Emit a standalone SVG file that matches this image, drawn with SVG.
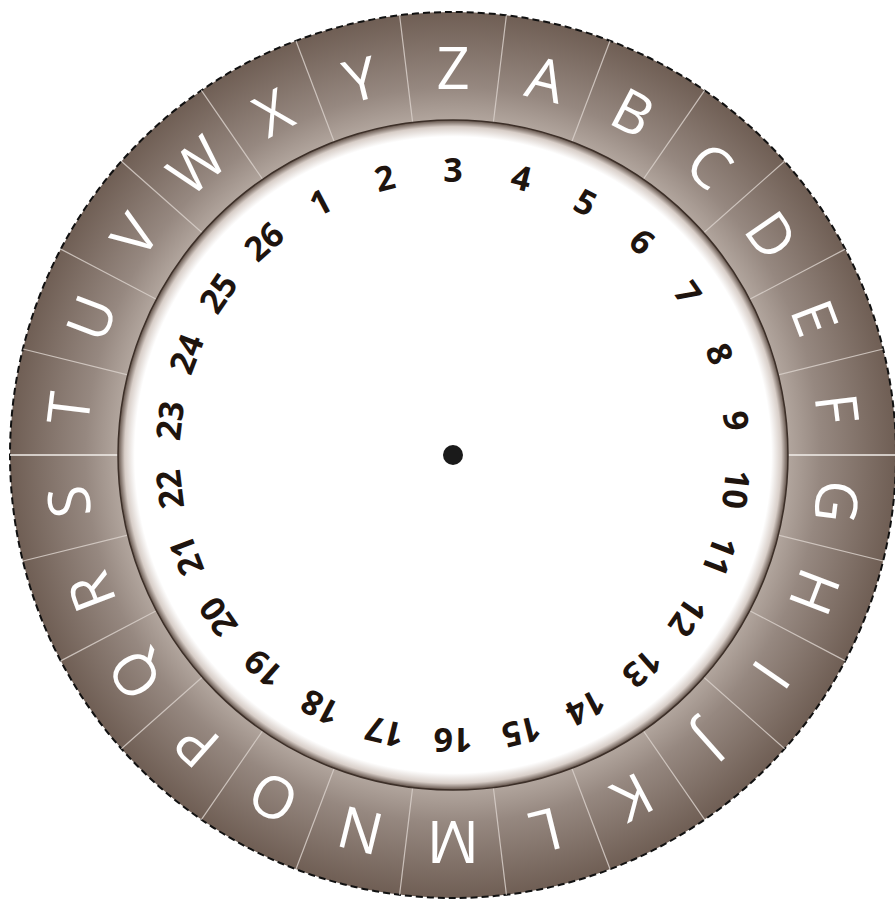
<svg xmlns="http://www.w3.org/2000/svg" xmlns:xlink="http://www.w3.org/1999/xlink" width="895" height="902" viewBox="0 0 895 902">
<defs>
<radialGradient id="ringG" cx="453" cy="455" r="443" gradientUnits="userSpaceOnUse">
<stop offset="0.75" stop-color="#b4a8a0"/>
<stop offset="0.83" stop-color="#968880"/>
<stop offset="1" stop-color="#6f5e54"/>
</radialGradient>
<radialGradient id="innerG" cx="453" cy="455" r="335" gradientUnits="userSpaceOnUse">
<stop offset="0.95" stop-color="#ffffff"/>
<stop offset="0.98" stop-color="#d8cec8"/>
<stop offset="1" stop-color="#5e4e45"/>
</radialGradient>
<line id="div" x1="453" y1="12" x2="453" y2="121"/>
<style>
.dv{stroke:#d9d0ca;stroke-width:1.2;opacity:0.85}
.dh{stroke:#f2eeea;stroke-width:1.6}
.lt{font-family:"Open Sans","DejaVu Sans",sans-serif;font-size:58px;fill:#ffffff;text-anchor:middle}
.nm{font-family:"Open Sans","DejaVu Sans",sans-serif;font-size:34px;font-weight:700;fill:#1e140e;text-anchor:middle}
</style>
</defs>
<g id="wheel">
<circle cx="453" cy="455" r="443" fill="url(#ringG)"/>
<circle cx="453" cy="455" r="443" fill="none" stroke="#111" stroke-width="2" stroke-dasharray="7 4"/>
</g>
<g id="dividers">
<use href="#div" class="dv" transform="rotate(6.923 453 455)"/>
<use href="#div" class="dv" transform="rotate(20.769 453 455)"/>
<use href="#div" class="dv" transform="rotate(34.615 453 455)"/>
<use href="#div" class="dv" transform="rotate(48.462 453 455)"/>
<use href="#div" class="dv" transform="rotate(62.308 453 455)"/>
<use href="#div" class="dv" transform="rotate(76.154 453 455)"/>
<use href="#div" class="dh" transform="rotate(90 453 455)"/>
<use href="#div" class="dv" transform="rotate(103.846 453 455)"/>
<use href="#div" class="dv" transform="rotate(117.692 453 455)"/>
<use href="#div" class="dv" transform="rotate(131.538 453 455)"/>
<use href="#div" class="dv" transform="rotate(145.385 453 455)"/>
<use href="#div" class="dv" transform="rotate(159.231 453 455)"/>
<use href="#div" class="dv" transform="rotate(173.077 453 455)"/>
<use href="#div" class="dv" transform="rotate(186.923 453 455)"/>
<use href="#div" class="dv" transform="rotate(200.769 453 455)"/>
<use href="#div" class="dv" transform="rotate(214.615 453 455)"/>
<use href="#div" class="dv" transform="rotate(228.462 453 455)"/>
<use href="#div" class="dv" transform="rotate(242.308 453 455)"/>
<use href="#div" class="dv" transform="rotate(256.154 453 455)"/>
<use href="#div" class="dh" transform="rotate(270 453 455)"/>
<use href="#div" class="dv" transform="rotate(283.846 453 455)"/>
<use href="#div" class="dv" transform="rotate(297.692 453 455)"/>
<use href="#div" class="dv" transform="rotate(311.538 453 455)"/>
<use href="#div" class="dv" transform="rotate(325.385 453 455)"/>
<use href="#div" class="dv" transform="rotate(339.231 453 455)"/>
<use href="#div" class="dv" transform="rotate(353.077 453 455)"/>
</g>
<g id="inner-disk">
<circle cx="453" cy="455" r="335" fill="url(#innerG)" stroke="#3c2f28" stroke-width="1.5"/>
</g>
<g id="letters">
<text class="lt" x="453" y="89" transform="rotate(0 453 455)">Z</text>
<text class="lt" x="453" y="89" transform="rotate(13.846 453 455)">A</text>
<text class="lt" x="453" y="89" transform="rotate(27.692 453 455)">B</text>
<text class="lt" x="453" y="89" transform="rotate(41.538 453 455)">C</text>
<text class="lt" x="453" y="89" transform="rotate(55.385 453 455)">D</text>
<text class="lt" x="453" y="89" transform="rotate(69.231 453 455)">E</text>
<text class="lt" x="453" y="89" transform="rotate(83.077 453 455)">F</text>
<text class="lt" x="453" y="89" transform="rotate(96.923 453 455)">G</text>
<text class="lt" x="453" y="89" transform="rotate(110.769 453 455)">H</text>
<text class="lt" x="453" y="89" transform="rotate(124.615 453 455)">I</text>
<text class="lt" x="453" y="89" transform="rotate(138.462 453 455)">J</text>
<text class="lt" x="453" y="89" transform="rotate(152.308 453 455)">K</text>
<text class="lt" x="453" y="89" transform="rotate(166.154 453 455)">L</text>
<text class="lt" x="453" y="89" transform="rotate(180 453 455)">M</text>
<text class="lt" x="453" y="89" transform="rotate(193.846 453 455)">N</text>
<text class="lt" x="453" y="89" transform="rotate(207.692 453 455)">O</text>
<text class="lt" x="453" y="89" transform="rotate(221.538 453 455)">P</text>
<text class="lt" x="453" y="89" transform="rotate(235.385 453 455)">Q</text>
<text class="lt" x="453" y="89" transform="rotate(249.231 453 455)">R</text>
<text class="lt" x="453" y="89" transform="rotate(263.077 453 455)">S</text>
<text class="lt" x="453" y="89" transform="rotate(276.923 453 455)">T</text>
<text class="lt" x="453" y="89" transform="rotate(290.769 453 455)">U</text>
<text class="lt" x="453" y="89" transform="rotate(304.615 453 455)">V</text>
<text class="lt" x="453" y="89" transform="rotate(318.462 453 455)">W</text>
<text class="lt" x="453" y="89" transform="rotate(332.308 453 455)">X</text>
<text class="lt" x="453" y="89" transform="rotate(346.154 453 455)">Y</text>
</g>
<g id="numbers">
<text class="nm" x="453" y="182" transform="rotate(0 453 455)">3</text>
<text class="nm" x="453" y="182" transform="rotate(13.846 453 455)">4</text>
<text class="nm" x="453" y="182" transform="rotate(27.692 453 455)">5</text>
<text class="nm" x="453" y="182" transform="rotate(41.538 453 455)">6</text>
<text class="nm" x="453" y="182" transform="rotate(55.385 453 455)">7</text>
<text class="nm" x="453" y="182" transform="rotate(69.231 453 455)">8</text>
<text class="nm" x="453" y="182" transform="rotate(83.077 453 455)">9</text>
<text class="nm" x="453" y="182" transform="rotate(96.923 453 455)">10</text>
<text class="nm" x="453" y="182" transform="rotate(110.769 453 455)">11</text>
<text class="nm" x="453" y="182" transform="rotate(124.615 453 455)">12</text>
<text class="nm" x="453" y="182" transform="rotate(138.462 453 455)">13</text>
<text class="nm" x="453" y="182" transform="rotate(152.308 453 455)">14</text>
<text class="nm" x="453" y="182" transform="rotate(166.154 453 455)">15</text>
<text class="nm" x="453" y="182" transform="rotate(180 453 455)">16</text>
<text class="nm" x="453" y="182" transform="rotate(193.846 453 455)">17</text>
<text class="nm" x="453" y="182" transform="rotate(207.692 453 455)">18</text>
<text class="nm" x="453" y="182" transform="rotate(221.538 453 455)">19</text>
<text class="nm" x="453" y="182" transform="rotate(235.385 453 455)">20</text>
<text class="nm" x="453" y="182" transform="rotate(249.231 453 455)">21</text>
<text class="nm" x="453" y="182" transform="rotate(263.077 453 455)">22</text>
<text class="nm" x="453" y="182" transform="rotate(276.923 453 455)">23</text>
<text class="nm" x="453" y="182" transform="rotate(290.769 453 455)">24</text>
<text class="nm" x="453" y="182" transform="rotate(304.615 453 455)">25</text>
<text class="nm" x="453" y="182" transform="rotate(318.462 453 455)">26</text>
<text class="nm" x="453" y="182" transform="rotate(332.308 453 455)">1</text>
<text class="nm" x="453" y="182" transform="rotate(346.154 453 455)">2</text>
</g>
<g id="center-pin">
<circle cx="453" cy="455" r="10" fill="#1a1a1a"/>
</g>
</svg>
